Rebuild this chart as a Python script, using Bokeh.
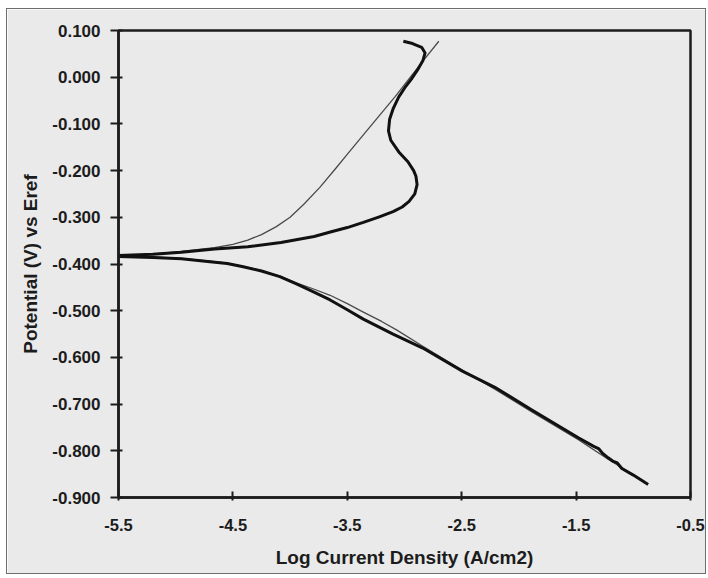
from bokeh.plotting import figure
from bokeh.models import Range1d, FixedTicker, NumeralTickFormatter, ColumnDataSource
from bokeh.embed import file_html
from bokeh.resources import INLINE

# Measured polarization curve (thick) - anodic branch
meas_anodic_logi = [-5.50, -5.20, -4.95, -4.66, -4.37, -4.08, -3.79, -3.64, -3.50, -3.36, -3.22,
                    -3.10, -3.02, -2.96, -2.91, -2.89, -2.90, -2.92, -2.97, -3.05, -3.12, -3.14,
                    -3.13, -3.10, -3.05, -2.99, -2.94, -2.88, -2.84, -2.82, -2.85, -2.93, -3.01]
meas_anodic_E = [-0.382, -0.379, -0.375, -0.368, -0.363, -0.354, -0.341, -0.331, -0.322, -0.311, -0.299,
                 -0.288, -0.278, -0.266, -0.250, -0.230, -0.212, -0.200, -0.181, -0.160, -0.135, -0.115,
                 -0.090, -0.068, -0.042, -0.020, -0.004, 0.018, 0.035, 0.052, 0.064, 0.072, 0.077]

# Measured polarization curve (thick) - cathodic branch
meas_cathodic_logi = [-5.50, -5.20, -4.95, -4.70, -4.55, -4.41, -4.25, -4.09, -3.94, -3.80,
                      -3.65, -3.50, -3.36, -3.10, -2.84, -2.49, -2.21, -1.89, -1.48, -1.35,
                      -1.30, -1.27, -1.22, -1.18, -1.14, -1.10, -1.00, -0.87]
meas_cathodic_E = [-0.384, -0.386, -0.389, -0.395, -0.399, -0.406, -0.415, -0.427, -0.443, -0.459,
                   -0.477, -0.498, -0.518, -0.550, -0.580, -0.630, -0.664, -0.712, -0.772, -0.790,
                   -0.796, -0.805, -0.815, -0.822, -0.826, -0.838, -0.852, -0.872]

# Fitted curve (thin) - anodic branch
fit_anodic_logi = [-5.50, -5.20, -4.95, -4.66, -4.50, -4.37, -4.25, -4.12, -4.00, -3.88,
                   -3.74, -3.60, -3.49, -3.30, -3.08, -2.85, -2.70]
fit_anodic_E = [-0.382, -0.379, -0.373, -0.365, -0.358, -0.349, -0.337, -0.320, -0.300, -0.272,
                -0.236, -0.195, -0.162, -0.106, -0.041, 0.031, 0.077]

# Fitted curve (thin) - cathodic branch
fit_cathodic_logi = [-5.50, -5.20, -4.95, -4.70, -4.55, -4.41, -4.25, -4.09, -3.94, -3.80,
                     -3.65, -3.50, -3.36, -3.20, -3.07, -2.84, -2.49, -2.21, -1.89, -1.48,
                     -1.22, -0.90]
fit_cathodic_E = [-0.384, -0.385, -0.388, -0.394, -0.398, -0.405, -0.414, -0.426, -0.441, -0.453,
                  -0.467, -0.485, -0.503, -0.523, -0.541, -0.576, -0.628, -0.668, -0.716, -0.776,
                  -0.818, -0.866]

x_ticks = [-5.5, -4.5, -3.5, -2.5, -1.5, -0.5]
y_ticks = [0.1, 0.0, -0.1, -0.2, -0.3, -0.4, -0.5, -0.6, -0.7, -0.8, -0.9]

FONT = "Liberation Sans"
BG = "#eaeaea"
INK = "#1c1c1c"

p = figure(width=700, height=566, output_backend="svg", toolbar_location=None,
           x_range=Range1d(-5.5, -0.5), y_range=Range1d(-0.9, 0.1),
           min_border_left=111, min_border_right=17, min_border_top=21, min_border_bottom=78,
           background_fill_color=BG, border_fill_color=BG)
p.styles = {"margin-left": "6px", "margin-top": "8px", "border": "1px solid #6e6e6e"}

p.xgrid.visible = False
p.ygrid.visible = False
p.outline_line_color = INK
p.outline_line_width = 2.5

src_fa = ColumnDataSource(dict(x=fit_anodic_logi, y=fit_anodic_E))
src_fc = ColumnDataSource(dict(x=fit_cathodic_logi, y=fit_cathodic_E))
src_ma = ColumnDataSource(dict(x=meas_anodic_logi, y=meas_anodic_E))
src_mc = ColumnDataSource(dict(x=meas_cathodic_logi, y=meas_cathodic_E))

p.line("x", "y", source=src_fa, line_color="#4a4a4a", line_width=1.3, line_join="round")
p.line("x", "y", source=src_fc, line_color="#4a4a4a", line_width=1.3, line_join="round")
p.line("x", "y", source=src_ma, line_color="#111111", line_width=3, line_join="round")
p.line("x", "y", source=src_mc, line_color="#111111", line_width=3, line_join="round")

# X axis
xa = p.xaxis[0]
xa.ticker = FixedTicker(ticks=x_ticks)
xa.formatter = NumeralTickFormatter(format="0.0")
xa.axis_label = "Log Current Density (A/cm2)"
xa.axis_label_text_font = FONT
xa.axis_label_text_font_style = "bold"
xa.axis_label_text_font_size = "19px"
xa.axis_label_text_color = INK
xa.axis_label_standoff = 13
xa.major_label_text_font = FONT
xa.major_label_text_font_style = "bold"
xa.major_label_text_font_size = "16.5px"
xa.major_label_text_color = INK
xa.major_label_standoff = 18
xa.axis_line_color = INK
xa.axis_line_width = 2.5
xa.major_tick_line_color = INK
xa.major_tick_line_width = 2
xa.major_tick_in = 6
xa.major_tick_out = 3
xa.minor_tick_line_color = None

# Y axis
ya = p.yaxis[0]
ya.ticker = FixedTicker(ticks=y_ticks)
ya.formatter = NumeralTickFormatter(format="0.000")
ya.axis_label = "Potential (V) vs Eref"
ya.axis_label_text_font = FONT
ya.axis_label_text_font_style = "bold"
ya.axis_label_text_font_size = "19px"
ya.axis_label_text_color = INK
ya.axis_label_standoff = 8
ya.major_label_text_font = FONT
ya.major_label_text_font_style = "bold"
ya.major_label_text_font_size = "17px"
ya.major_label_text_color = INK
ya.major_label_standoff = 10
ya.axis_line_color = INK
ya.axis_line_width = 2.5
ya.major_tick_line_color = INK
ya.major_tick_line_width = 2
ya.major_tick_in = 4
ya.major_tick_out = 8
ya.minor_tick_line_color = None

open("out.html", "w").write(file_html(p, INLINE))
